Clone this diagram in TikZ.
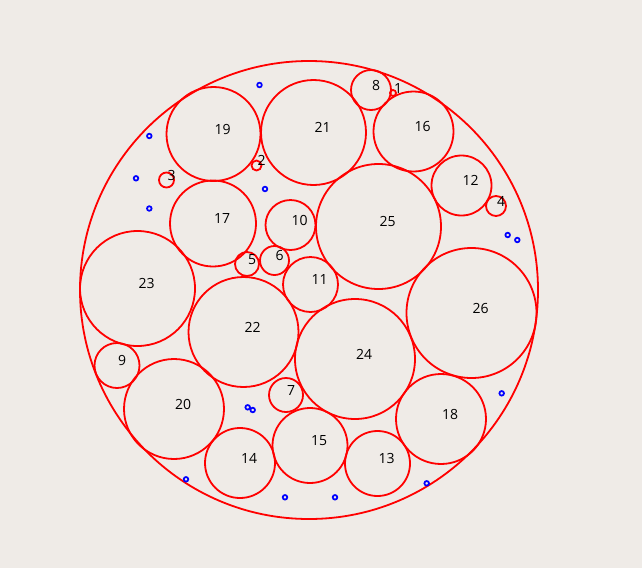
\documentclass[tikz,border=0pt]{standalone}
\usepackage{fontspec}
\setmainfont{Open Sans}
\usepackage{tikz}

\definecolor{paper}{RGB}{239,235,231}

\begin{document}
\begin{tikzpicture}[x=.75pt, y=-.75pt,
  disc/.style={red, line width=1.35pt},
  dot/.style={blue, line width=1.3pt},
  lbl/.style={anchor=base west, inner sep=0pt, xshift=.6pt, font=\fontsize{10.5}{12}\selectfont}]
\def\R{229}

\fill[paper] (0,0) rectangle (642,568);
\useasboundingbox (0,0) rectangle (642,568);

% outer circle
\draw[disc] (309,290) circle (\R);

\foreach \n/\x/\y/\r in {1/393/93/3, 2/256.5/165.5/5, 3/166.5/180/7.5, 4/496/206/10,
  5/247/264/12, 6/274.5/260.5/14.5, 7/286/395/17, 8/371/90/20, 9/117/365.5/22.5,
  10/290.5/225/25, 11/310.5/284.5/27.5, 12/461.5/185.5/30, 13/377.5/463.5/32.5,
  14/240/463/35, 15/310/445.5/37.5, 16/413.5/131.5/40, 17/213/223.5/43,
  18/441/419/45, 19/213.5/134/47, 20/174/409/50, 21/313.5/132.5/52.5,
  22/243.5/332/55, 23/137.5/288.5/57.5, 24/355/359/60, 25/378.5/226.5/62.5,
  26/471.5/313/65}
{
  \draw[disc] (\x,\y) circle (\r);
  \node[lbl] (c\n) at (\x,\y) {\n};
}

% small blue rings
\foreach \x/\y in {259.5/85, 149.3/136, 136/178.3, 149.3/208.5, 265/189,
  507.7/235, 517.3/240, 247.7/407.3, 252.7/410, 501.7/393.3,
  186/479.3, 285/497.3, 335/497.3, 426.7/483.3}
  \draw[dot] (\x,\y) circle (2.3);

\end{tikzpicture}
\end{document}
